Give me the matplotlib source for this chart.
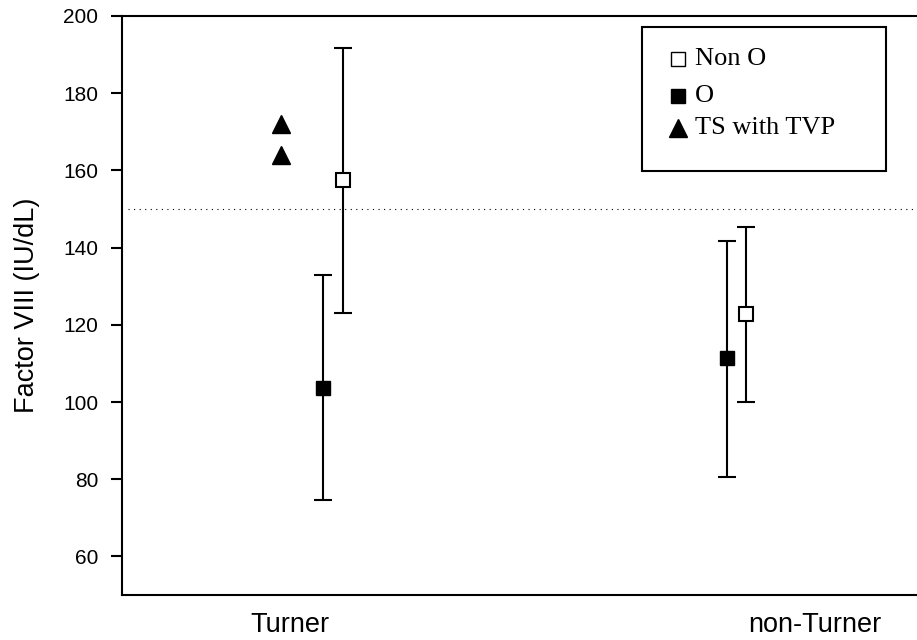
import matplotlib
matplotlib.use("Agg")
import matplotlib.pyplot as plt
from matplotlib.patches import Rectangle

# Data
groups = ["Turner", "non-Turner"]
group_pos = [1.0, 2.0]

o_x = [1.063, 1.832]
o_mean = [103.7, 111.3]
o_low = [74.6, 80.6]
o_high = [133.0, 141.7]

non_o_x = [1.101, 1.869]
non_o_mean = [157.4, 122.7]
non_o_low = [123.0, 99.9]
non_o_high = [191.6, 145.3]

tvp_x = [0.983, 0.983]
tvp_values = [172.0, 164.0]

reference_level = 150
y_ticks = [60, 80, 100, 120, 140, 160, 180, 200]

plt.rcParams['font.family'] = ['Liberation Sans', 'DejaVu Sans']

fig = plt.figure(figsize=(9.17, 6.4), dpi=100)
ax = fig.add_axes([122 / 917, 45 / 640, 795 / 917, 579 / 640])

# Reference line
ax.axhline(reference_level, color='black', lw=0.8, linestyle=(0, (1, 4)), xmin=0.007)

# Error bars
def err(mean, low, high):
    return [[m - l for m, l in zip(mean, low)], [h - m for m, h in zip(mean, high)]]

ax.errorbar(o_x, o_mean, yerr=err(o_mean, o_low, o_high), fmt='s', color='black',
            ms=9.5, mfc='black', mec='black', ecolor='black', elinewidth=1.5,
            capsize=6.5, capthick=1.5, zorder=3)
ax.errorbar(non_o_x, non_o_mean, yerr=err(non_o_mean, non_o_low, non_o_high), fmt='s',
            ms=9.5, mfc='white', mec='black', mew=1.5, ecolor='black', elinewidth=1.5,
            capsize=6.5, capthick=1.5, zorder=3)
ax.plot(tvp_x, tvp_values, '^', color='black', ms=13, zorder=3)

ax.set_xlim(0.68, 2.194)
ax.set_ylim(50, 200)
ax.set_yticks(y_ticks)
ax.set_xticks(group_pos)
ax.set_xticklabels(groups, fontsize=19.5)
ax.tick_params(axis='x', length=0, pad=12)
ax.tick_params(axis='y', length=8, width=1.5, pad=9, labelsize=15)
ax.set_ylabel("Factor VIII (IU/dL)", fontsize=19.5)
ax.yaxis.set_label_coords(-0.103, 0.5)

for side in ['left', 'bottom', 'top']:
    ax.spines[side].set_linewidth(1.5)
ax.spines['right'].set_visible(False)

# Legend box drawn by hand to match the original layout
def ax_x(px):
    return (px - 122) / 795

def ax_y(py):
    return 1 - (py - 16) / 579

ax.add_patch(Rectangle((ax_x(642), ax_y(171)), ax_x(886) - ax_x(642), ax_y(27) - ax_y(171),
                       transform=ax.transAxes, fill=False, edgecolor='black', lw=1.5,
                       clip_on=False, zorder=4))
legend_rows = [("Non O", 's', 'white', 10, 59), ("O", 's', 'black', 10, 96),
               ("TS with TVP", '^', 'black', 13, 128)]
for label, marker, face, size, py in legend_rows:
    ax.plot([ax_x(678)], [ax_y(py)], marker=marker, ms=size, mfc=face, mec='black', mew=1,
            transform=ax.transAxes, clip_on=False, linestyle='none')
    ax.text(ax_x(695), ax_y(py), label, transform=ax.transAxes, fontsize=19,
            family=['Liberation Serif', 'DejaVu Serif'], va='center', ha='left')

fig.savefig("out.png", dpi=100)
